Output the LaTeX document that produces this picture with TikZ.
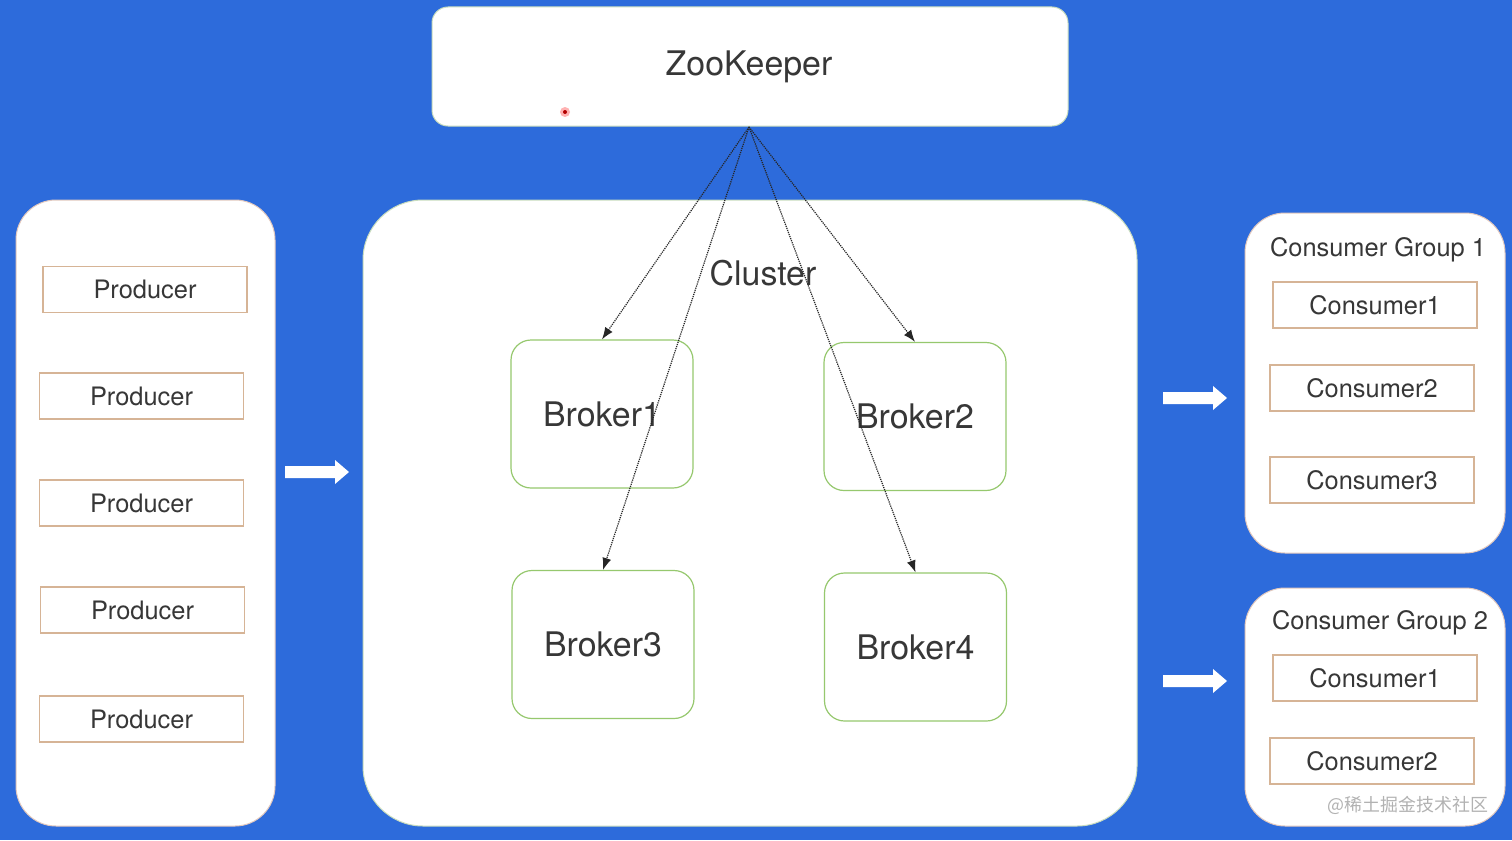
\documentclass[tikz,border=0pt]{standalone}
\usepackage{fontspec}
\setmainfont{TeX Gyre Heros}
\newfontfamily\cjk{Noto Sans CJK SC}
\usetikzlibrary{arrows.meta}
\definecolor{bgblue}{RGB}{45,107,219}
\definecolor{txt}{RGB}{55,55,55}
\definecolor{tan}{RGB}{214,180,150}
\definecolor{brokergreen}{RGB}{150,200,110}
\definecolor{panelline}{RGB}{225,200,190}
\definecolor{clusterline}{RGB}{200,220,190}
\tikzset{
  panel/.style={draw=panelline, line width=1bp, fill=white, rounded corners=40bp},
  zkbox/.style={draw=clusterline, line width=1bp, fill=white, rounded corners=16bp,
     minimum width=636bp, minimum height=119bp, inner sep=0pt,
     font=\fontsize{34}{38}\selectfont, text=txt},
  clusterbox/.style={draw=clusterline, line width=1bp, fill=white, rounded corners=60bp},
  brokerbox/.style={draw=brokergreen, line width=1.2bp, fill=white, rounded corners=20bp,
     minimum width=182bp, minimum height=148bp, inner sep=0pt,
     font=\fontsize{34}{38}\selectfont, text=txt},
  itembox/.style={draw=tan, line width=1.5bp, fill=white,
     minimum width=204bp, minimum height=46bp, inner sep=0pt,
     font=\fontsize{25.5}{30}\selectfont, text=txt},
  title/.style={font=\fontsize{25.5}{30}\selectfont, text=txt, inner sep=0pt},
  bigtitle/.style={font=\fontsize{34}{38}\selectfont, text=txt, inner sep=0pt},
  zkarrow/.style={densely dotted, line width=1.2bp, black!85, -{Latex[length=12bp,width=9bp]}},
}
\begin{document}
\begin{tikzpicture}[x=1bp, y=-1bp]
\useasboundingbox (0,0) rectangle (1512,840);
\fill[bgblue] (0,0) rectangle (1512,840);

% ZooKeeper
\node[zkbox] (zk) at (750,66.5) {};
\node[bigtitle] (zkt) at (749,67) {ZooKeeper};
\fill[red!30] (565,112) circle (5bp);
\fill[red!70!black] (565,112) circle (2bp);

% Producer panel
\draw[panel] (16,200) rectangle (275,826);
\node[itembox] (p1) at (145,289.5) {Producer};
\node[itembox] (p2) at (141.5,396) {Producer};
\node[itembox] (p3) at (141.5,503) {Producer};
\node[itembox] (p4) at (142.5,610) {Producer};
\node[itembox] (p5) at (141.5,719) {Producer};

% Cluster
\draw[clusterbox] (363,200) rectangle (1137,826);
\node[bigtitle] (cl) at (763,273) {Cluster};
\node[brokerbox] (b1) at (602,414) {Broker1};
\node[brokerbox] (b2) at (915,416.5) {Broker2};
\node[brokerbox] (b3) at (603,644.5) {Broker3};
\node[brokerbox] (b4) at (915.5,647) {Broker4};

% ZooKeeper arrows
\coordinate (zkb) at (749,127);
\draw[zkarrow] (zkb) -- (b1.north);
\draw[zkarrow] (zkb) -- (b2.north);
\draw[zkarrow] (zkb) -- (b3.north);
\draw[zkarrow] (zkb) -- (b4.north);

% Consumer group 1
\draw[panel] (1245,213) rectangle (1505,553);
\node[title] (g1) at (1378,250) {Consumer Group 1};
\node[itembox] (c11) at (1375,305) {Consumer1};
\node[itembox] (c12) at (1372,388) {Consumer2};
\node[itembox] (c13) at (1372,480) {Consumer3};

% Consumer group 2
\draw[panel] (1245,588) rectangle (1505,826);
\node[title] (g2) at (1380,623) {Consumer Group 2};
\node[itembox] (c21) at (1375,678) {Consumer1};
\node[itembox] (c22) at (1372,761) {Consumer2};

% white arrows
\foreach \ax/\ay in {285/472, 1163/398, 1163/681}{
  \fill[white] (\ax,\ay-6) -- (\ax+50,\ay-6) -- (\ax+50,\ay-12) -- (\ax+64,\ay)
     -- (\ax+50,\ay+12) -- (\ax+50,\ay+6) -- (\ax,\ay+6) -- cycle;
}

% watermark
\node[text=black!30, font=\cjk\fontsize{18}{20}\selectfont, inner sep=0pt] (wm) at (1408,805) {@稀土掘金技术社区};
\end{tikzpicture}
\end{document}
